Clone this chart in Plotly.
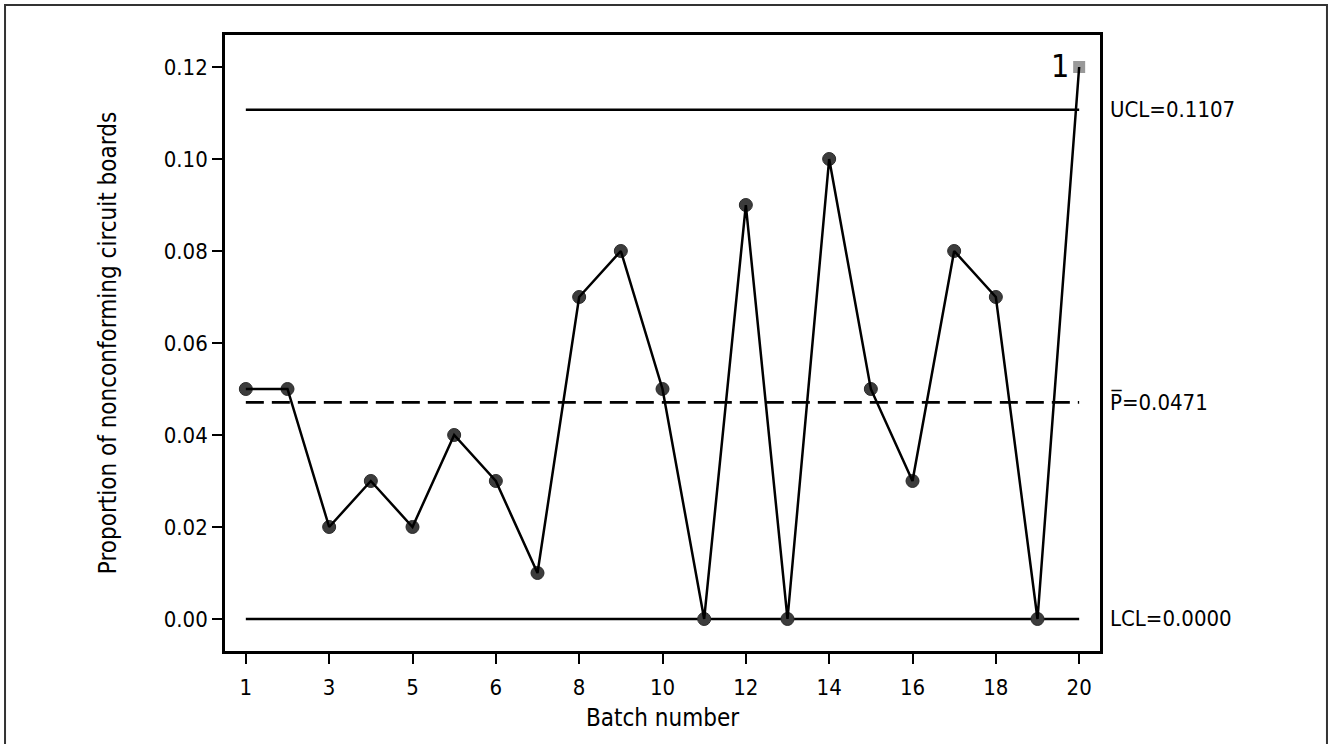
import plotly.graph_objects as go

# Sample index along the chart and the batch labels shown under the axis
sample_index = list(range(1, 22))
proportion = [0.05, 0.05, 0.02, 0.03, 0.02, 0.04, 0.03, 0.01, 0.07, 0.08, 0.05,
              0.00, 0.09, 0.00, 0.10, 0.05, 0.03, 0.08, 0.07, 0.00, 0.12]
tick_positions = [1, 3, 5, 7, 9, 11, 13, 15, 17, 19, 21]
tick_labels = ["1", "3", "5", "6", "8", "10", "12", "14", "16", "18", "20"]
y_ticks = [0.00, 0.02, 0.04, 0.06, 0.08, 0.10, 0.12]

ucl = 0.1107
center = 0.0471
lcl = 0.0000
out_of_control = [21]  # indices beyond the UCL

FONT = "DejaVu Sans Condensed"
FS = 22
TITLE_FS = 24

in_x = [x for x in sample_index if x not in out_of_control]
in_y = [proportion[x - 1] for x in in_x]
out_x = out_of_control
out_y = [proportion[x - 1] for x in out_x]

fig = go.Figure()

# Control limits and center line
x_span = [sample_index[0], sample_index[-1]]
fig.add_trace(go.Scatter(x=x_span, y=[ucl, ucl], mode="lines",
                         line=dict(color="black", width=2.6), hoverinfo="skip"))
fig.add_trace(go.Scatter(x=x_span, y=[lcl, lcl], mode="lines",
                         line=dict(color="black", width=2.6), hoverinfo="skip"))
fig.add_trace(go.Scatter(x=x_span, y=[center, center], mode="lines",
                         line=dict(color="black", width=2.6, dash="18px,8px"),
                         hoverinfo="skip"))

# Points
fig.add_trace(go.Scatter(x=in_x, y=in_y, mode="markers",
                         marker=dict(symbol="circle", size=13, color="#3c3c3c",
                                     line=dict(color="#2a2a2a", width=1))))
fig.add_trace(go.Scatter(x=out_x, y=out_y, mode="markers",
                         marker=dict(symbol="square", size=12, color="#999999",
                                     line=dict(width=0))))
# Connecting line drawn over the points
fig.add_trace(go.Scatter(x=sample_index, y=proportion, mode="lines",
                         line=dict(color="black", width=2.5)))

annotations = [
    dict(x=1.0, xref="paper", xanchor="left", xshift=8, y=ucl, yref="y",
         text="UCL=0.1107", showarrow=False, font=dict(family=FONT, size=FS, color="black")),
    dict(x=1.0, xref="paper", xanchor="left", xshift=8, y=center, yref="y",
         text="P\u0305=0.0471", showarrow=False, font=dict(family=FONT, size=FS, color="black")),
    dict(x=1.0, xref="paper", xanchor="left", xshift=8, y=lcl, yref="y",
         text="LCL=0.0000", showarrow=False, font=dict(family=FONT, size=FS, color="black")),
]
for x, y in zip(out_x, out_y):
    annotations.append(dict(x=x, y=y, xref="x", yref="y", text="1", showarrow=False,
                            xanchor="right", xshift=-8, yshift=1,
                            font=dict(family=FONT, size=32, color="black")))

fig.update_layout(
    width=1329, height=744,
    margin=dict(l=225, r=229, t=35, b=93),
    paper_bgcolor="white", plot_bgcolor="white",
    showlegend=False,
    font=dict(family=FONT, size=FS, color="black"),
    annotations=annotations,
    xaxis=dict(range=[0.5, 21.5], tickmode="array", tickvals=tick_positions,
               ticktext=tick_labels, ticks="outside", ticklen=10, tickwidth=1.5,
               tickcolor="black", showgrid=False, zeroline=False,
               showline=True, linecolor="black", linewidth=2.6, mirror=True,
               tickfont=dict(family=FONT, size=FS), ticklabelstandoff=5,
               title=dict(text="Batch number", font=dict(family=FONT, size=TITLE_FS),
                          standoff=10)),
    yaxis=dict(range=[-0.00696, 0.12696], tickmode="array", tickvals=y_ticks,
               ticktext=[f"{v:.2f}" for v in y_ticks], ticks="outside", ticklen=10,
               tickwidth=1.5, tickcolor="black", showgrid=False, zeroline=False,
               showline=True, linecolor="black", linewidth=2.6, mirror=True,
               tickfont=dict(family=FONT, size=FS),
               title=dict(text="Proportion of nonconforming circuit boards",
                          font=dict(family=FONT, size=TITLE_FS), standoff=41)),
    shapes=[dict(type="rect", xref="paper", yref="paper",
                 x0=-0.2514, x1=1.2594, y0=-0.2, y1=1.0487,
                 line=dict(color="#333333", width=2), layer="below")],
)

fig.write_html("out.html")
